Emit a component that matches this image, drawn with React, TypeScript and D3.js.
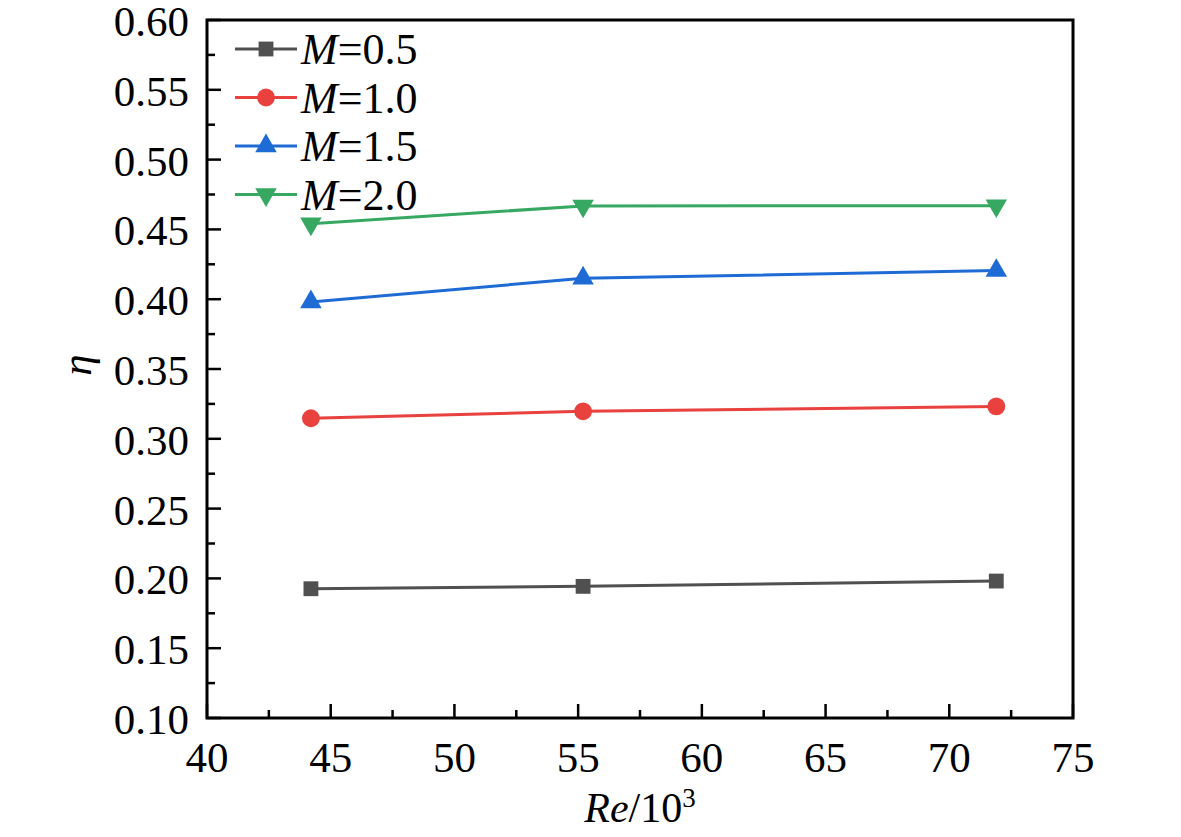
import { useEffect, useRef } from "react";
import * as d3 from "d3";

const RE = [44.2, 55.2, 71.9];
const M05 = [0.1926, 0.1943, 0.1981];
const M10 = [0.3147, 0.3197, 0.3232];
const M15 = [0.398, 0.415, 0.4205];
const M20 = [0.454, 0.4668, 0.467];
const LABELS = ["0.5", "1.0", "1.5", "2.0"];
const COLORS = ["#505050", "#e8413e", "#1f6bd6", "#37a862"];
const X_TICKS = [40, 45, 50, 55, 60, 65, 70, 75];
const Y_TICKS = [0.1, 0.15, 0.2, 0.25, 0.3, 0.35, 0.4, 0.45, 0.5, 0.55, 0.6];

const FONT = "'Liberation Serif', 'Times New Roman', serif";

export default function App() {
  const ref = useRef<SVGSVGElement | null>(null);

  useEffect(() => {
    if (!ref.current) return;
    const svg = d3.select(ref.current);
    svg.selectAll("*").remove();

    const left = 207, right = 1073, top = 20, bottom = 718;
    const x = d3.scaleLinear().domain([40, 75]).range([left, right]);
    const y = d3.scaleLinear().domain([0.1, 0.6]).range([bottom, top]);

    const series = [M05, M10, M15, M20];
    const symbols = [
      { type: d3.symbolSquare, size: 220, rot: 0 },
      { type: d3.symbolCircle, size: 250, rot: 0 },
      { type: d3.symbolTriangle, size: 200, rot: 0 },
      { type: d3.symbolTriangle, size: 200, rot: 180 },
    ];

    // ticks (inward)
    const ticks = svg.append("g").attr("stroke", "#000").attr("stroke-width", 2.5);
    X_TICKS.forEach((t) => {
      ticks.append("line").attr("x1", x(t)).attr("x2", x(t)).attr("y1", bottom).attr("y2", bottom - 14);
      if (t < 75) {
        const m = t + 2.5;
        ticks.append("line").attr("x1", x(m)).attr("x2", x(m)).attr("y1", bottom).attr("y2", bottom - 8);
      }
    });
    Y_TICKS.forEach((t, i) => {
      ticks.append("line").attr("x1", left).attr("x2", left + 14).attr("y1", y(t)).attr("y2", y(t));
      if (i < Y_TICKS.length - 1) {
        const m = t + 0.025;
        ticks.append("line").attr("x1", left).attr("x2", left + 8).attr("y1", y(m)).attr("y2", y(m));
      }
    });

    // frame
    svg.append("rect")
      .attr("x", left).attr("y", top)
      .attr("width", right - left).attr("height", bottom - top)
      .attr("fill", "none").attr("stroke", "#000").attr("stroke-width", 3);

    // tick labels
    svg.append("g").selectAll("text").data(X_TICKS).join("text")
      .attr("x", (d) => x(d)).attr("y", 772)
      .attr("text-anchor", "middle")
      .style("font-family", FONT).style("font-size", "43px")
      .text((d) => String(d));
    svg.append("g").selectAll("text").data(Y_TICKS).join("text")
      .attr("x", 189).attr("y", (d) => y(d) + 16)
      .attr("text-anchor", "end")
      .style("font-family", FONT).style("font-size", "43px")
      .text((d) => d.toFixed(2));

    // series
    const line = d3.line<number>().x((_, i) => x(RE[i])).y((d) => y(d));
    series.forEach((vals, k) => {
      const g = svg.append("g");
      g.append("path").attr("d", line(vals) || "")
        .attr("fill", "none").attr("stroke", COLORS[k]).attr("stroke-width", 3);
      const sym = d3.symbol().type(symbols[k].type).size(symbols[k].size);
      g.selectAll("path.pt").data(vals).join("path")
        .attr("class", "pt")
        .attr("d", sym() || "")
        .attr("transform", (d, i) => `translate(${x(RE[i])},${y(d)}) rotate(${symbols[k].rot})`)
        .attr("fill", COLORS[k]);
    });

    // legend
    const lg = svg.append("g");
    LABELS.forEach((lab, k) => {
      const ly = 49 + k * 48.5;
      lg.append("line").attr("x1", 235).attr("x2", 297).attr("y1", ly).attr("y2", ly)
        .attr("stroke", COLORS[k]).attr("stroke-width", 3);
      const sym = d3.symbol().type(symbols[k].type).size(symbols[k].size);
      lg.append("path").attr("d", sym() || "")
        .attr("transform", `translate(266,${ly}) rotate(${symbols[k].rot})`)
        .attr("fill", COLORS[k]);
      const t = lg.append("text").attr("x", 301).attr("y", ly + 15)
        .style("font-family", FONT).style("font-size", "44px");
      t.append("tspan").style("font-style", "italic").text("M");
      t.append("tspan").text("=" + lab);
    });

    // axis titles
    const xt = svg.append("text").attr("x", 640).attr("y", 822).attr("text-anchor", "middle")
      .style("font-family", FONT).style("font-size", "42px");
    xt.append("tspan").style("font-style", "italic").text("Re");
    xt.append("tspan").text("/10");
    xt.append("tspan").attr("dy", -15).style("font-size", "27px").text("3");

    svg.append("text")
      .attr("transform", "translate(91,365) rotate(-90)")
      .attr("text-anchor", "middle")
      .style("font-family", FONT).style("font-size", "43px").style("font-style", "italic")
      .text("η");
  }, []);

  return (
    <svg ref={ref} width={1181} height={837}
      style={{ position: "absolute", left: 0, top: 0, background: "#fff" }} />
  );
}
